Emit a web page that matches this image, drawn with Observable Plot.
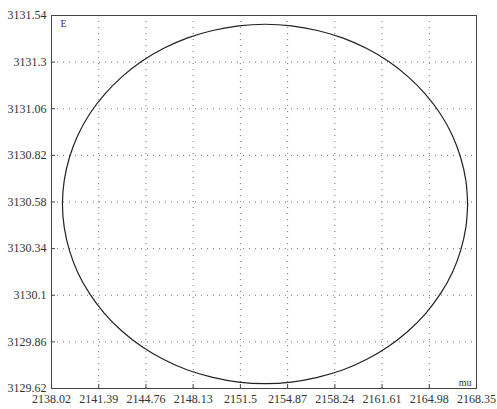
<!DOCTYPE html>
<html>
<head>
<meta charset="utf-8">
<script src="https://cdn.jsdelivr.net/npm/d3@7"></script>
<script src="https://cdn.jsdelivr.net/npm/@observablehq/plot@0.6"></script>
<style>
  body { margin: 0; background: #fff; }
  #chart svg { display: block; font-family: 'Liberation Serif', 'DejaVu Serif', serif !important; }
  #chart svg text { font-family: 'Liberation Serif', 'DejaVu Serif', serif !important; }
</style>
</head>
<body>
<div id="chart"></div>
<script>
const xTicks = [2138.02, 2141.39, 2144.76, 2148.13, 2151.5, 2154.87, 2158.24, 2161.61, 2164.98, 2168.35];
const yTicks = [3129.62, 3129.86, 3130.1, 3130.34, 3130.58, 3130.82, 3131.06, 3131.3, 3131.54];

// Outline of the closed curve (mu, E)
const curveMu = [2167.72, 2167.59, 2167.22, 2166.62, 2165.78, 2164.73, 2163.48, 2162.06, 2160.49, 2158.79, 2157.00, 2155.15,
  2153.26, 2151.37, 2149.52, 2147.73, 2146.03, 2144.46, 2143.04, 2141.79, 2140.74, 2139.90, 2139.30, 2138.93,
  2138.80, 2138.93, 2139.30, 2139.90, 2140.74, 2141.79, 2143.04, 2144.46, 2146.03, 2147.73, 2149.52, 2151.37,
  2153.26, 2155.15, 2157.00, 2158.79, 2160.49, 2162.06, 2163.48, 2164.73, 2165.78, 2166.62, 2167.22, 2167.59, 2167.72];
const curveE = [3130.570, 3130.691, 3130.809, 3130.924, 3131.033, 3131.133, 3131.224, 3131.304, 3131.371, 3131.425, 3131.463, 3131.487,
  3131.495, 3131.487, 3131.463, 3131.425, 3131.371, 3131.304, 3131.224, 3131.133, 3131.033, 3130.924, 3130.809, 3130.691,
  3130.570, 3130.449, 3130.331, 3130.216, 3130.108, 3130.007, 3129.916, 3129.836, 3129.769, 3129.715, 3129.677, 3129.653,
  3129.645, 3129.653, 3129.677, 3129.715, 3129.769, 3129.836, 3129.916, 3130.007, 3130.108, 3130.216, 3130.331, 3130.449, 3130.570];

const pts = curveMu.map((m, i) => ({mu: m, E: curveE[i]}));
const font = "'Liberation Serif', 'DejaVu Serif', serif";

const chart = Plot.plot({
  width: 497,
  height: 409,
  marginLeft: 51,
  marginRight: 21,
  marginTop: 15,
  marginBottom: 21,
  style: {fontFamily: font, fontSize: "12px", color: "#333", background: "#fff"},
  x: {domain: [2138.02, 2168.35], label: null},
  y: {domain: [3129.62, 3131.54], label: null},
  marks: [
    Plot.gridX(xTicks, {stroke: "#666", strokeOpacity: 0.9, strokeDasharray: "1,5"}),
    Plot.gridY(yTicks, {stroke: "#666", strokeOpacity: 0.9, strokeDasharray: "1,5"}),
    Plot.axisX(xTicks, {tickSize: -4, tickFormat: () => "", stroke: "#444", label: null}),
    Plot.axisY(yTicks, {tickSize: -4, tickFormat: () => "", stroke: "#444", label: null}),
    Plot.axisX(xTicks, {tickSize: 0, tickPadding: 6, tickFormat: d => String(d), label: null, fontSize: 12, fill: "#333", fontFamily: font}),
    Plot.axisY(yTicks, {tickSize: 0, tickPadding: 5, tickFormat: d => String(d), label: null, fontSize: 12, fill: "#333", fontFamily: font}),
    Plot.frame({stroke: "#444", strokeWidth: 1}),
    Plot.line(pts, {x: "mu", y: "E", stroke: "#222", strokeWidth: 1.2, curve: "catmull-rom"}),
    Plot.text(["E"], {frameAnchor: "top-left", dx: 9, dy: 4, text: d => d, fontSize: 10, fill: "#333", textAnchor: "start", lineAnchor: "top", fontFamily: font}),
    Plot.text(["mu"], {frameAnchor: "bottom-right", dx: -5, dy: -3, text: d => d, fontSize: 10, fill: "#333", textAnchor: "end", lineAnchor: "bottom", fontFamily: font})
  ]
});
document.getElementById("chart").appendChild(chart);
</script>
</body>
</html>
